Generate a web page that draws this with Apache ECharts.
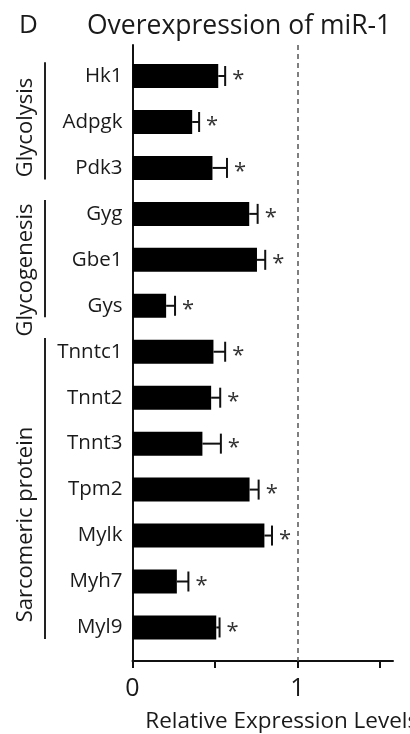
<!DOCTYPE html>
<html>
<head>
<meta charset="utf-8">
<script src="https://cdn.jsdelivr.net/npm/echarts@6/dist/echarts.min.js"></script>
<style>
  html, body { margin: 0; padding: 0; background: #fff; }
  #chart { width: 410px; height: 734px; }
</style>
</head>
<body>
<div id="chart"></div>
<script>
const genes = ['Hk1', 'Adpgk', 'Pdk3', 'Gyg', 'Gbe1', 'Gys', 'Tnntc1', 'Tnnt2', 'Tnnt3', 'Tpm2', 'Mylk', 'Myh7', 'Myl9']
const means = [0.52, 0.362, 0.485, 0.708, 0.755, 0.204, 0.491, 0.477, 0.424, 0.71, 0.80, 0.269, 0.508]
const errors = [0.042, 0.042, 0.088, 0.051, 0.05, 0.054, 0.071, 0.055, 0.112, 0.055, 0.046, 0.07, 0.02]
const xTicks = [0, 0.5, 1, 1.5]
const xLabels = [0, 1]
const groupNames = ['Glycolysis', 'Glycogenesis', 'Sarcomeric protein']
const groupFirst = [0, 3, 6]
const groupLast = [2, 5, 12]

const font = 'Open Sans'
const textColor = '#1a1a1a'

const chart = echarts.init(document.getElementById('chart'))

chart.setOption({
  animation: false,
  title: [
    {
      text: 'D',
      left: 19,
      top: 13,
      padding: 0,
      textStyle: {fontFamily: font, fontSize: 26, fontWeight: 'normal', color: textColor}
    },
    {
      text: 'Overexpression of miR-1',
      left: 87,
      top: 13,
      padding: 0,
      textStyle: {fontFamily: font, fontSize: 26.5, fontWeight: 'normal', color: textColor}
    }
  ],
  grid: {
    left: 132.5,
    right: 17,
    top: 45,
    bottom: 73,
    outerBoundsMode: 'none'
  },
  xAxis: {
    type: 'value',
    min: 0,
    max: 1.58,
    name: 'Relative Expression Levels',
    nameLocation: 'middle',
    nameGap: 49,
    nameTextStyle: {fontFamily: font, fontSize: 22.5, color: textColor, padding: [0, 0, 0, 38]},
    axisLine: {onZero: false, lineStyle: {color: '#111', width: 2}},
    axisTick: {customValues: xTicks, length: 7, lineStyle: {color: '#111', width: 2}},
    axisLabel: {customValues: xLabels, fontFamily: font, fontSize: 25, color: textColor, margin: 15},
    splitLine: {show: false}
  },
  yAxis: {
    type: 'value',
    inverse: true,
    min: -0.675,
    max: 12.73,
    axisLine: {show: true, onZero: false, lineStyle: {color: '#111', width: 2}},
    axisTick: {show: false},
    axisLabel: {
      customValues: genes.map((g, i) => i),
      formatter: (v) => genes[v],
      fontFamily: font,
      fontSize: 20.5,
      color: textColor,
      margin: 10
    },
    splitLine: {show: false}
  },
  series: [
    {
      type: 'custom',
      data: genes.map((g, i) => [means[i], i, errors[i]]),
      renderItem: (params, api) => {
        const v = api.value(0)
        const i = api.value(1)
        const e = api.value(2)
        const start = api.coord([0, i])
        const end = api.coord([v, i])
        const cap = api.coord([v + e, i])
        const h = 24
        return {
          type: 'group',
          children: [
            {
              type: 'rect',
              shape: {x: start[0], y: start[1] - h / 2, width: end[0] - start[0], height: h},
              style: {fill: '#000'}
            },
            {
              type: 'line',
              shape: {x1: end[0], y1: end[1], x2: cap[0], y2: cap[1]},
              style: {stroke: '#111', lineWidth: 2}
            },
            {
              type: 'line',
              shape: {x1: cap[0], y1: cap[1] - 10, x2: cap[0], y2: cap[1] + 10},
              style: {stroke: '#111', lineWidth: 2}
            },
            {
              type: 'text',
              style: {
                text: '*', x: cap[0] + 7, y: cap[1] + 4,
                fontFamily: font, fontSize: 22, fill: '#333',
                align: 'left', verticalAlign: 'middle'
              }
            }
          ]
        }
      },
      markLine: {
        silent: true,
        symbol: 'none',
        label: {show: false},
        lineStyle: {type: [5, 4], color: '#555', width: 1.5},
        data: [{xAxis: 1}]
      }
    }
  ]
})

// brackets and rotated group names on the left
const labelCenters = [1.12, 4.22, 9.76]
const toY = (v) => chart.convertToPixel({gridIndex: 0}, [0, v])[1]
const graphics = []
groupNames.forEach((name, k) => {
  graphics.push({
    type: 'line',
    shape: {x1: 45, y1: toY(groupFirst[k] - 0.3), x2: 45, y2: toY(groupLast[k] + 0.25)},
    style: {stroke: '#222', lineWidth: 2}
  })
  graphics.push({
    type: 'text',
    x: 26,
    y: toY(labelCenters[k]),
    rotation: Math.PI / 2,
    style: {
      text: name, fontFamily: font, fontSize: 22, fill: textColor,
      align: 'center', verticalAlign: 'middle'
    }
  })
})
chart.setOption({graphic: graphics})
</script>
</body>
</html>
